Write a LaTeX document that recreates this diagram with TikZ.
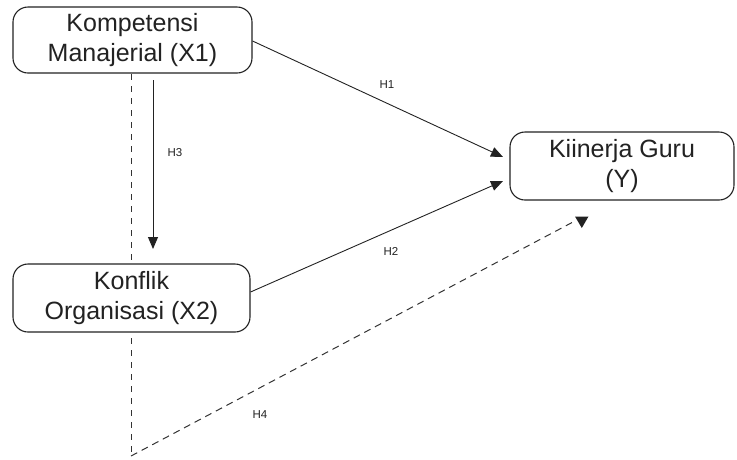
\documentclass[tikz,border=0pt]{standalone}
\usepackage{fontspec}
\setmainfont{Liberation Sans}
\usetikzlibrary{arrows.meta,calc}
\definecolor{ink}{HTML}{222222}
\definecolor{dashink}{HTML}{333333}
\tikzset{
  varbox/.style={draw=ink, line width=1.1pt, rounded corners=15pt, fill=white,
    align=center, inner sep=0pt, font=\fontsize{25}{29.5}\selectfont, text=ink},
  hyp/.style={draw=ink, line width=0.9pt, -{Triangle[length=12pt,width=10pt]}},
  dashline/.style={draw=dashink, line width=1pt, dash pattern=on 6pt off 6pt},
  hlabel/.style={font=\fontsize{11.5}{13}\selectfont, text=ink, inner sep=0pt},
}
\begin{document}
\begin{tikzpicture}[x=1pt,y=-1pt]
\useasboundingbox (0,0) rectangle (737,459);
% coordinates
\coordinate (d0) at (131,74);
\coordinate (dc) at (131,456);
\coordinate (d1) at (573,222);
% dashed path (behind boxes)
\draw[dashline] (d0) -- (dc);
\draw[dashline, dash pattern=on 7pt off 5pt] (dc) -- (d1);
\fill[ink] (575,216.5) -- (588.5,216.5) -- (581.8,228) -- cycle;
% boxes
\node[varbox, minimum width=239pt, minimum height=66pt] (X1) at (132.5,40) {Kompetensi\\Manajerial (X1)};
\node[varbox, minimum width=237pt, minimum height=68pt] (X2) at (131.5,298) {Konflik\\Organisasi (X2)};
\node[varbox, minimum width=224pt, minimum height=68pt] (Y) at (622,166) {Kiinerja Guru\\(Y)};
% connector ends
\coordinate (h1s) at ($(X1.east)+(0,1)$);
\coordinate (h1e) at (503,157);
\coordinate (h2s) at ($(X2.east)+(0,-6)$);
\coordinate (h2e) at (503,181);
\coordinate (h3s) at (153,80);
\coordinate (h3e) at (153,249);
\draw[hyp] (h1s) -- (h1e);
\draw[hyp] (h2s) -- (h2e);
\draw[hyp] (h3s) -- (h3e);
% labels
\node[hlabel] (L1) at (387,85) {H1};
\node[hlabel] (L2) at (391,251) {H2};
\node[hlabel] (L3) at (175,153) {H3};
\node[hlabel] (L4) at (260,415) {H4};
\end{tikzpicture}
\end{document}
